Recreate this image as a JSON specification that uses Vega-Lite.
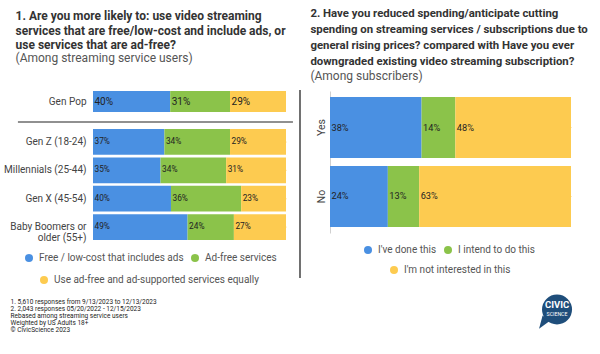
{
  "$schema": "https://vega.github.io/schema/vega-lite/v6.json",
  "background": "white",
  "padding": {"left": 3, "top": 8, "right": 5, "bottom": 4},
  "spacing": 5,
  "config": {
    "font": "Roboto",
    "view": {"stroke": null},
    "legend": {"title": null, "symbolType": "circle", "symbolSize": 64, "labelFontSize": 10, "labelColor": "#555", "labelOffset": 5, "columnPadding": 6, "labelLimit": 400, "direction": "horizontal", "orient": "none"}
  },
  "datasets": {
    "q1": [
      {"group": "Gen Pop", "answer": "Free / low-cost that includes ads", "order": 1, "share": 0.40},
      {"group": "Gen Pop", "answer": "Ad-free services", "order": 2, "share": 0.31},
      {"group": "Gen Pop", "answer": "Use ad-free and ad-supported services equally", "order": 3, "share": 0.29},
      {"group": "Gen Z (18-24)", "answer": "Free / low-cost that includes ads", "order": 1, "share": 0.37},
      {"group": "Gen Z (18-24)", "answer": "Ad-free services", "order": 2, "share": 0.34},
      {"group": "Gen Z (18-24)", "answer": "Use ad-free and ad-supported services equally", "order": 3, "share": 0.29},
      {"group": "Millennials (25-44)", "answer": "Free / low-cost that includes ads", "order": 1, "share": 0.35},
      {"group": "Millennials (25-44)", "answer": "Ad-free services", "order": 2, "share": 0.34},
      {"group": "Millennials (25-44)", "answer": "Use ad-free and ad-supported services equally", "order": 3, "share": 0.31},
      {"group": "Gen X (45-54)", "answer": "Free / low-cost that includes ads", "order": 1, "share": 0.40},
      {"group": "Gen X (45-54)", "answer": "Ad-free services", "order": 2, "share": 0.36},
      {"group": "Gen X (45-54)", "answer": "Use ad-free and ad-supported services equally", "order": 3, "share": 0.23},
      {"group": "Baby Boomers or older (55+)", "answer": "Free / low-cost that includes ads", "order": 1, "share": 0.49},
      {"group": "Baby Boomers or older (55+)", "answer": "Ad-free services", "order": 2, "share": 0.24},
      {"group": "Baby Boomers or older (55+)", "answer": "Use ad-free and ad-supported services equally", "order": 3, "share": 0.27}
    ],
    "q2": [
      {"group": "Yes", "answer": "I've done this", "order": 1, "share": 0.38},
      {"group": "Yes", "answer": "I intend to do this", "order": 2, "share": 0.14},
      {"group": "Yes", "answer": "I'm not interested in this", "order": 3, "share": 0.48},
      {"group": "No", "answer": "I've done this", "order": 1, "share": 0.24},
      {"group": "No", "answer": "I intend to do this", "order": 2, "share": 0.13},
      {"group": "No", "answer": "I'm not interested in this", "order": 3, "share": 0.63}
    ]
  },
  "title": {
    "text": ["1. 5,610 responses from 9/13/2023 to 12/13/2023", "2. 2,043 responses 05/20/2022 - 12/15/2023", "Rebased among streaming service users", "Weighted by US Adults 18+", "© CivicScience 2023"],
    "orient": "bottom", "anchor": "start", "fontSize": 6.5, "fontWeight": "normal", "lineHeight": 7, "color": "#222", "offset": -30, "dx": 7
  },
  "hconcat": [
    {
      "title": {
        "text": ["1. Are you more likely to: use video streaming", "services that are free/low-cost and include ads, or", "use services that are ad-free?"],
        "subtitle": "(Among streaming service users)",
        "anchor": "start", "fontSize": 12, "fontWeight": "bold", "lineHeight": 14.5, "color": "#333",
        "subtitleFontSize": 12, "subtitleColor": "#555", "subtitlePadding": 1, "subtitleLineHeight": 14.5,
        "offset": 26, "dx": 12
      },
      "spacing": 9,
      "vconcat": [
        {
          "width": 193, "height": 21,
          "data": {"name": "q1"},
          "transform": [
            {"filter": "datum.group == 'Gen Pop'"},
            {"stack": "share", "groupby": ["group"], "sort": [{"field": "order", "order": "ascending"}], "offset": "normalize", "as": ["x0", "x1"]}
          ],
          "encoding": {
            "y": {"field": "group", "type": "nominal", "scale": {"paddingInner": 0, "paddingOuter": 0},
              "axis": {"title": null, "domain": false, "ticks": false, "labelFontSize": 10, "labelColor": "#444", "labelPadding": 7}}
          },
          "layer": [
            {
              "mark": {"type": "bar"},
              "encoding": {
                "x": {"field": "x0", "type": "quantitative", "scale": {"domain": [0, 1]}, "axis": null},
                "x2": {"field": "x1"},
                "color": {"field": "answer", "type": "nominal",
                  "scale": {"domain": ["Free / low-cost that includes ads", "Ad-free services", "Use ad-free and ad-supported services equally"], "range": ["#4a90e2", "#8bc34a", "#fdcb50"]},
                  "legend": {"values": ["Free / low-cost that includes ads", "Ad-free services"], "legendX": -69, "legendY": 162}}
              }
            },
            {
              "mark": {"type": "text", "align": "left", "baseline": "middle", "dx": 1.5, "fontSize": 10, "color": "#222"},
              "encoding": {
                "x": {"field": "x0", "type": "quantitative", "scale": {"domain": [0, 1]}, "axis": null},
                "text": {"field": "share", "type": "quantitative", "format": ".0%"}
              }
            }
          ]
        },
        {
          "width": 193, "height": 111,
          "data": {"name": "q1"},
          "transform": [
            {"filter": "datum.group != 'Gen Pop'"},
            {"stack": "share", "groupby": ["group"], "sort": [{"field": "order", "order": "ascending"}], "offset": "normalize", "as": ["x0", "x1"]}
          ],
          "encoding": {
            "y": {"field": "group", "type": "nominal",
              "scale": {"domain": ["Gen Z (18-24)", "Millennials (25-44)", "Gen X (45-54)", "Baby Boomers or older (55+)"], "paddingInner": 0.09, "paddingOuter": 0},
              "axis": {"title": null, "domain": false, "ticks": false, "labelFontSize": 10, "labelColor": "#444", "labelPadding": 7, "labelLineHeight": 11, "labelLimit": 200,
                "labelExpr": "datum.label == 'Baby Boomers or older (55+)' ? ['Baby Boomers or', 'older (55+)'] : datum.label"}}
          },
          "layer": [
            {
              "mark": {"type": "bar"},
              "encoding": {
                "x": {"field": "x0", "type": "quantitative", "scale": {"domain": [0, 1]}, "axis": null},
                "x2": {"field": "x1"},
                "color": {"field": "answer", "type": "nominal",
                  "scale": {"domain": ["Free / low-cost that includes ads", "Ad-free services", "Use ad-free and ad-supported services equally"], "range": ["#4a90e2", "#8bc34a", "#fdcb50"]},
                  "legend": {"values": ["Free / low-cost that includes ads", "Ad-free services"], "legendX": -69, "legendY": 162}}
              }
            },
            {
              "transform": [{"filter": "datum.answer == 'Use ad-free and ad-supported services equally'"}],
              "mark": {"type": "point", "filled": true, "size": 1, "opacity": 1},
              "encoding": {
                "x": {"field": "x1", "type": "quantitative", "scale": {"domain": [0, 1]}, "axis": null},
                "fill": {"field": "answer", "type": "nominal",
                  "scale": {"domain": ["Use ad-free and ad-supported services equally"], "range": ["#fdcb50"]},
                  "legend": {"legendX": -54, "legendY": 184, "symbolSize": 64}}
              }
            },
            {
              "mark": {"type": "text", "align": "left", "baseline": "middle", "dx": 1.5, "fontSize": 8.3, "color": "#222"},
              "encoding": {
                "x": {"field": "x0", "type": "quantitative", "scale": {"domain": [0, 1]}, "axis": null},
                "text": {"field": "share", "type": "quantitative", "format": ".0%"}
              }
            },
            {
              "data": {"values": [{}]},
              "mark": {"type": "rule", "color": "#222", "strokeWidth": 1.2, "yOffset": -19.9},
              "encoding": {
                "x": {"datum": -0.389, "type": "quantitative", "scale": {"domain": [0, 1]}, "axis": null},
                "x2": {"datum": 1.036},
                "y": {"datum": "Gen Z (18-24)", "type": "nominal"}
              }
            }
          ]
        }
      ]
    },
    {
      "title": {
        "text": ["2. Have you reduced spending/anticipate cutting", "spending on streaming services / subscriptions due to", "general rising prices? compared with Have you ever", "downgraded existing video streaming subscription?"],
        "subtitle": "(Among subscribers)",
        "anchor": "start", "fontSize": 11.4, "fontWeight": "bold", "lineHeight": 16, "color": "#333",
        "subtitleFontSize": 12, "subtitleColor": "#555", "subtitlePadding": 4, "subtitleLineHeight": 15.5,
        "offset": 7, "dx": 11
      },
      "width": 241, "height": 142,
      "data": {"name": "q2"},
      "transform": [
        {"stack": "share", "groupby": ["group"], "sort": [{"field": "order", "order": "ascending"}], "offset": "normalize", "as": ["x0", "x1"]}
      ],
      "encoding": {
        "y": {"field": "group", "type": "nominal", "scale": {"domain": ["Yes", "No"], "paddingInner": 0.116, "paddingOuter": 0.087},
          "axis": {"title": null, "ticks": false, "domain": true, "domainColor": "#d0d0d0", "labelAngle": -90, "labelAlign": "center", "labelBaseline": "bottom", "labelFontSize": 10.5, "labelColor": "#444", "labelPadding": 4}}
      },
      "layer": [
        {
          "mark": {"type": "bar"},
          "encoding": {
            "x": {"field": "x0", "type": "quantitative", "scale": {"domain": [0, 1]}, "axis": null},
            "x2": {"field": "x1"},
            "color": {"field": "answer", "type": "nominal",
              "scale": {"domain": ["I've done this", "I intend to do this", "I'm not interested in this"], "range": ["#4a90e2", "#8bc34a", "#fdcb50"]},
              "legend": {"values": ["I've done this", "I intend to do this"], "legendX": 33, "legendY": 154}}
          }
        },
        {
          "transform": [{"filter": "datum.answer == \"I'm not interested in this\""}],
          "mark": {"type": "point", "filled": true, "size": 1, "opacity": 1},
          "encoding": {
            "x": {"field": "x1", "type": "quantitative", "scale": {"domain": [0, 1]}, "axis": null},
            "fill": {"field": "answer", "type": "nominal",
              "scale": {"domain": ["I'm not interested in this"], "range": ["#fdcb50"]},
              "legend": {"legendX": 59, "legendY": 174, "symbolSize": 64}}
          }
        },
        {
          "mark": {"type": "text", "align": "left", "baseline": "middle", "dx": 1.5, "fontSize": 9.2, "color": "#222"},
          "encoding": {
            "x": {"field": "x0", "type": "quantitative", "scale": {"domain": [0, 1]}, "axis": null},
            "text": {"field": "share", "type": "quantitative", "format": ".0%"}
          }
        },
        {
          "data": {"values": [{}]},
          "mark": {"type": "rule", "color": "#111", "strokeWidth": 1.2, "yOffset": -37.5, "y2Offset": 81.5},
          "encoding": {
            "x": {"datum": -0.1245, "type": "quantitative", "scale": {"domain": [0, 1]}, "axis": null},
            "y": {"datum": "Yes", "type": "nominal"},
            "y2": {"datum": "No"}
          }
        },
        {
          "data": {"values": [{}]},
          "mark": {"type": "point", "shape": "M -0.2 -1 L 0.8 -0.2 L -0.7 0.9 Z", "filled": true, "size": 200, "color": "#1f4e7b", "opacity": 1, "yOffset": 126},
          "encoding": {
            "x": {"datum": 0.888, "type": "quantitative", "scale": {"domain": [0, 1]}, "axis": null},
            "y": {"datum": "No", "type": "nominal"}
          }
        },
        {
          "data": {"values": [{}]},
          "mark": {"type": "point", "shape": "circle", "filled": true, "size": 900, "color": "#1f4e7b", "opacity": 1, "yOffset": 113},
          "encoding": {
            "x": {"datum": 0.942, "type": "quantitative", "scale": {"domain": [0, 1]}, "axis": null},
            "y": {"datum": "No", "type": "nominal"}
          }
        },
        {
          "data": {"values": [{}]},
          "mark": {"type": "text", "align": "center", "baseline": "middle", "fontSize": 9.5, "fontWeight": "bold", "color": "white", "yOffset": 109},
          "encoding": {
            "x": {"datum": 0.942, "type": "quantitative", "scale": {"domain": [0, 1]}, "axis": null},
            "y": {"datum": "No", "type": "nominal"},
            "text": {"value": "CIVIC"}
          }
        },
        {
          "data": {"values": [{}]},
          "mark": {"type": "text", "align": "center", "baseline": "middle", "fontSize": 5.2, "color": "white", "yOffset": 117.5},
          "encoding": {
            "x": {"datum": 0.942, "type": "quantitative", "scale": {"domain": [0, 1]}, "axis": null},
            "y": {"datum": "No", "type": "nominal"},
            "text": {"value": "SCIENCE"}
          }
        }
      ]
    }
  ],
  "resolve": {"scale": {"color": "independent", "fill": "independent"}}
}
